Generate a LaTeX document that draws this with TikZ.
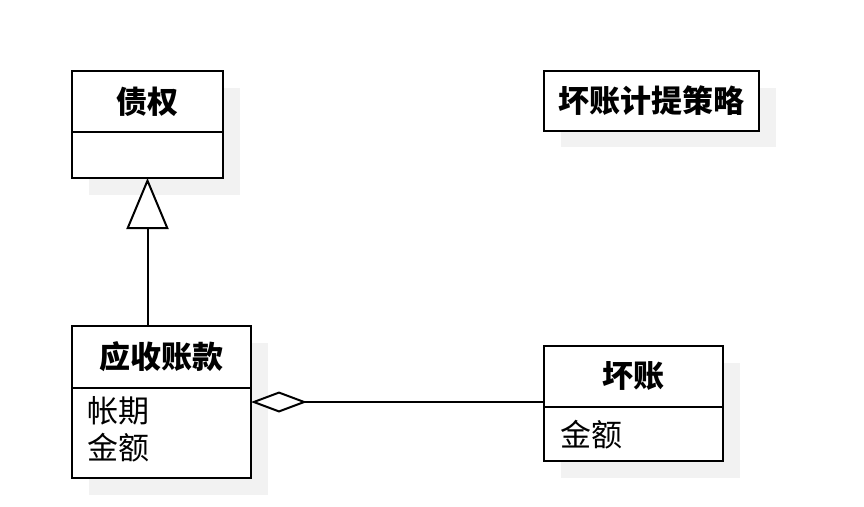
\documentclass[tikz,border=0pt]{standalone}
\usepackage{fontspec}
\setmainfont{Noto Sans CJK SC}
\usetikzlibrary{arrows.meta}
\definecolor{shadowgray}{HTML}{F2F2F2}
\tikzset{
  box/.style={draw=black, line width=2pt, fill=white, rectangle, inner sep=0pt, outer sep=0pt},
  shade/.style={fill=shadowgray, draw=none},
  titletext/.style={font=\fontsize{31}{36}\selectfont\bfseries},
  attrtext/.style={font=\fontsize{31}{37}\selectfont, align=left},
  link/.style={draw=black, line width=2pt}
}
\begin{document}
\begin{tikzpicture}[x=1pt,y=-1pt]
\useasboundingbox (0,0) rectangle (864,506);
% shadows
\fill[shade] (89,88) rectangle (240,195);
\fill[shade] (89,343) rectangle (268,495);
\fill[shade] (561,363) rectangle (740,478);
\fill[shade] (561,88) rectangle (776,147);
% class 债权
\node[box, minimum width=151pt, minimum height=61pt] (c1t) at (147.5,101.5) {};
\node[titletext] at (c1t) {债权};
\node[box, minimum width=151pt, minimum height=46pt, anchor=north] (c1a) at (c1t.south) {};
% class 应收账款
\node[box, minimum width=179pt, minimum height=62pt] (c2t) at (161.5,357) {};
\node[titletext] at (c2t) {应收账款};
\node[box, minimum width=179pt, minimum height=90pt, anchor=north] (c2a) at (c2t.south) {};
\node[attrtext, anchor=north west] (c2txt) at ([xshift=12pt,yshift=-5pt]c2a.north west) {帐期\\金额};
% class 坏账
\node[box, minimum width=179pt, minimum height=61pt] (c3t) at (633.5,376.5) {};
\node[titletext] at (c3t) {坏账};
\node[box, minimum width=179pt, minimum height=54pt, anchor=north] (c3a) at (c3t.south) {};
\node[attrtext, anchor=west] (c3txt) at ([xshift=13pt,yshift=-1pt]c3a.west) {金额};
% class 坏账计提策略
\node[box, minimum width=215pt, minimum height=60pt] (c4) at (651.5,101) {};
\node[titletext] at (c4) {坏账计提策略};
% generalization
\draw[link, -{Triangle[open, length=51pt, width=42pt, fill=white]}] (c1a.south |- c2t.north) -- (c1a.south);
% aggregation
\coordinate (agg) at (251,402);
\draw[link, {Diamond[open, length=56pt, width=21pt, fill=white]}-] (agg) -- (agg -| c3t.west);
\end{tikzpicture}
\end{document}
